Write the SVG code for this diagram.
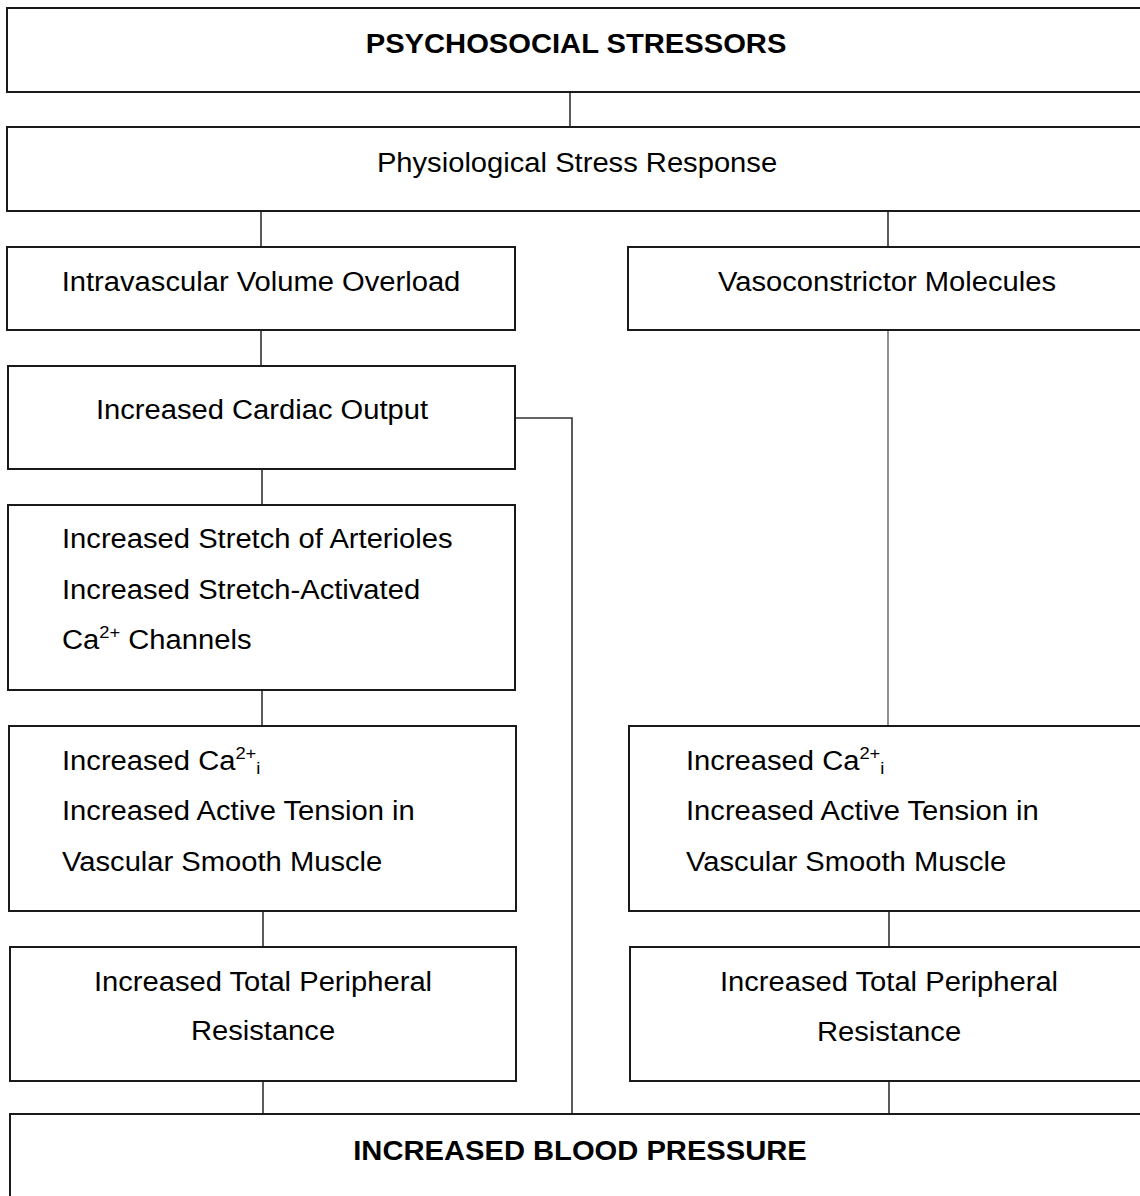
<svg xmlns="http://www.w3.org/2000/svg" width="1140" height="1196" viewBox="0 0 1140 1196">
<style>
.box{fill:#fff;stroke:#1a1a1a;stroke-width:2}
.con{fill:none;stroke:#333;stroke-width:1.6}
.t{font-family:"Liberation Sans",Arial,sans-serif;font-size:27px;fill:#000}
.b{font-weight:bold}
.m{text-anchor:middle}
.s{font-size:17px}
</style>
<rect width="1140" height="1196" fill="#fff"/>
<g id="connectors">
<line class="con" x1="570" y1="92" x2="570" y2="127"/>
<line class="con" x1="261" y1="211" x2="261" y2="247"/>
<line class="con" x1="888" y1="211" x2="888" y2="247"/>
<line class="con" x1="261" y1="330" x2="261" y2="366"/>
<line class="con" x1="262" y1="469" x2="262" y2="505"/>
<line class="con" x1="262" y1="690" x2="262" y2="726"/>
<line class="con" x1="263" y1="911" x2="263" y2="947"/>
<line class="con" x1="263" y1="1081" x2="263" y2="1114"/>
<polyline class="con" points="515,418 572,418 572,1114"/>
<line class="con" x1="888" y1="330" x2="888" y2="726" style="stroke:#555;stroke-width:1.3"/>
<line class="con" x1="889" y1="911" x2="889" y2="947"/>
<line class="con" x1="889" y1="1081" x2="889" y2="1114"/>
</g>
<g id="n1">
<rect class="box" x="7" y="8" width="1200" height="84"/>
<text class="t b m" transform="translate(576,53) scale(1.08,1)">PSYCHOSOCIAL STRESSORS</text>
</g>
<g id="n2">
<rect class="box" x="7" y="127" width="1200" height="84"/>
<text class="t m" transform="translate(577,172) scale(1.08,1)">Physiological Stress Response</text>
</g>
<g id="n3">
<rect class="box" x="7" y="247" width="508" height="83"/>
<text class="t m" transform="translate(261,291) scale(1.08,1)">Intravascular Volume Overload</text>
</g>
<g id="n4">
<rect class="box" x="628" y="247" width="600" height="83"/>
<text class="t m" transform="translate(887,291) scale(1.08,1)">Vasoconstrictor Molecules</text>
</g>
<g id="n5">
<rect class="box" x="8" y="366" width="507" height="103"/>
<text class="t m" transform="translate(262,419) scale(1.08,1)">Increased Cardiac Output</text>
</g>
<g id="n6">
<rect class="box" x="8" y="505" width="507" height="185"/>
<text class="t" transform="translate(62,548) scale(1.08,1)">Increased Stretch of Arterioles</text>
<text class="t" transform="translate(62,599) scale(1.08,1)">Increased Stretch-Activated</text>
<text class="t" transform="translate(62,649) scale(1.08,1)">Ca<tspan class="s" dy="-11">2+</tspan><tspan dy="11"> Channels</tspan></text>
</g>
<g id="n7">
<rect class="box" x="9" y="726" width="507" height="185"/>
<text class="t" transform="translate(62,770) scale(1.08,1)">Increased Ca<tspan class="s" dy="-11">2+</tspan><tspan class="s" dy="15">i</tspan></text>
<text class="t" transform="translate(62,820) scale(1.08,1)">Increased Active Tension in</text>
<text class="t" transform="translate(62,871) scale(1.08,1)">Vascular Smooth Muscle</text>
</g>
<g id="n8">
<rect class="box" x="629" y="726" width="600" height="185"/>
<text class="t" transform="translate(686,770) scale(1.08,1)">Increased Ca<tspan class="s" dy="-11">2+</tspan><tspan class="s" dy="15">i</tspan></text>
<text class="t" transform="translate(686,820) scale(1.08,1)">Increased Active Tension in</text>
<text class="t" transform="translate(686,871) scale(1.08,1)">Vascular Smooth Muscle</text>
</g>
<g id="n9">
<rect class="box" x="10" y="947" width="506" height="134"/>
<text class="t m" transform="translate(263,991) scale(1.08,1)">Increased Total Peripheral</text>
<text class="t m" transform="translate(263,1040) scale(1.08,1)">Resistance</text>
</g>
<g id="n10">
<rect class="box" x="630" y="947" width="600" height="134"/>
<text class="t m" transform="translate(889,991) scale(1.08,1)">Increased Total Peripheral</text>
<text class="t m" transform="translate(889,1041) scale(1.08,1)">Resistance</text>
</g>
<g id="n11">
<rect class="box" x="10" y="1114" width="1200" height="120"/>
<text class="t b m" transform="translate(580,1160) scale(1.08,1)">INCREASED BLOOD PRESSURE</text>
</g>
</svg>
